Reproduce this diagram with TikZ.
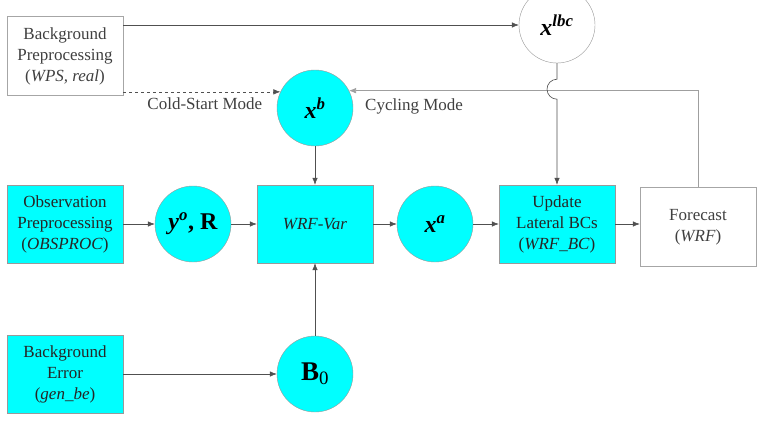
\documentclass[tikz,border=0pt]{standalone}
\usepackage{fontspec}
\setmainfont{Liberation Serif}
\usepackage{xcolor}
\usepackage{tikz}
\usetikzlibrary{arrows.meta}

\definecolor{varcyan}{RGB}{0,255,255}
\definecolor{lineg}{RGB}{80,80,80}
\newcommand{\bvar}[1]{{\bfseries\itshape #1}}

\begin{document}
\begin{tikzpicture}[%
  x=1pt, y=-1pt,
  every node/.style={font=\fontsize{17}{21}\selectfont, align=center},
  procbox/.style={draw=gray!80, fill=varcyan, minimum width=116pt,
    minimum height=78pt, inner sep=2pt, text=black!85},
  plainbox/.style={draw=gray!70, fill=white, minimum width=116pt,
    minimum height=79pt, inner sep=2pt, text=black!75},
  varcirc/.style={circle, draw=gray!80, fill=varcyan, minimum size=76pt,
    inner sep=0pt, font=\fontsize{24}{28}\selectfont},
  lbl/.style={inner sep=0pt, text=black!75},
  flow/.style={draw=lineg, line width=0.6pt,
    -{Latex[length=7pt,width=5.5pt]}}]
  \useasboundingbox (0,0) rectangle (765,420);

  % top row
  \node[plainbox] (bgpre) at (65,56) {Background\\Preprocessing\\(\textit{WPS, real})};
  \node[varcirc, fill=white] (xlbc) at (557,25) {\bvar{x}\textsuperscript{\bvar{lbc}}};
  \node[varcirc] (xb) at (315,108) {\bvar{x}\textsuperscript{\bvar{b}}};

  % middle row
  \node[procbox] (obs) at (65,224) {Observation\\Preprocessing\\(\textit{OBSPROC})};
  \node[varcirc] (yoR) at (193,224) {\bvar{y}\textsuperscript{\bvar{o}}\textbf{, R}};
  \node[procbox] (wrfvar) at (315,224) {\textit{WRF-Var}};
  \node[varcirc] (xa) at (435,224) {\bvar{x}\textsuperscript{\bvar{a}}};
  \node[procbox] (upbc) at (557,224) {Update\\Lateral BCs\\(\textit{WRF\_BC})};
  \node[plainbox] (fcst) at (698,227) {Forecast\\(\textit{WRF})};

  % bottom row
  \node[procbox] (bgerr) at (65,374) {Background\\Error\\(\textit{gen\_be})};
  \node[varcirc, font=\fontsize{27}{30}\selectfont] (b0) at (315,374) {\textbf{B}\textsubscript{0}};

  % mode labels
  \node[lbl, anchor=north east] (cold) at ([xshift=-18pt,yshift=-6pt]xb.155) {Cold-Start Mode};
  \node[lbl, anchor=north west] (cyc) at ([xshift=16pt,yshift=-8pt]xb.27) {Cycling Mode};

  % connectors
  \draw[flow] (bgpre.east |- xlbc.west) -- (xlbc.west);
  \draw[flow, dashed] (bgpre.east |- xb.155) -- (xb.155);
  \draw[flow, draw=gray!75] (fcst.north) |- (xb.27);
  \draw[flow] (xlbc.south) -- ++(0,16) arc[start angle=270, end angle=90, radius=10]
    -- (upbc.north);
  \draw[flow] (xb) -- (wrfvar);
  \draw[flow] (b0) -- (wrfvar);
  \draw[flow] (obs) -- (yoR);
  \draw[flow] (yoR) -- (wrfvar);
  \draw[flow] (wrfvar) -- (xa);
  \draw[flow] (xa) -- (upbc);
  \draw[flow] (upbc.east) -- (upbc.east -| fcst.west);
  \draw[flow] (bgerr) -- (b0);
\end{tikzpicture}
\end{document}
